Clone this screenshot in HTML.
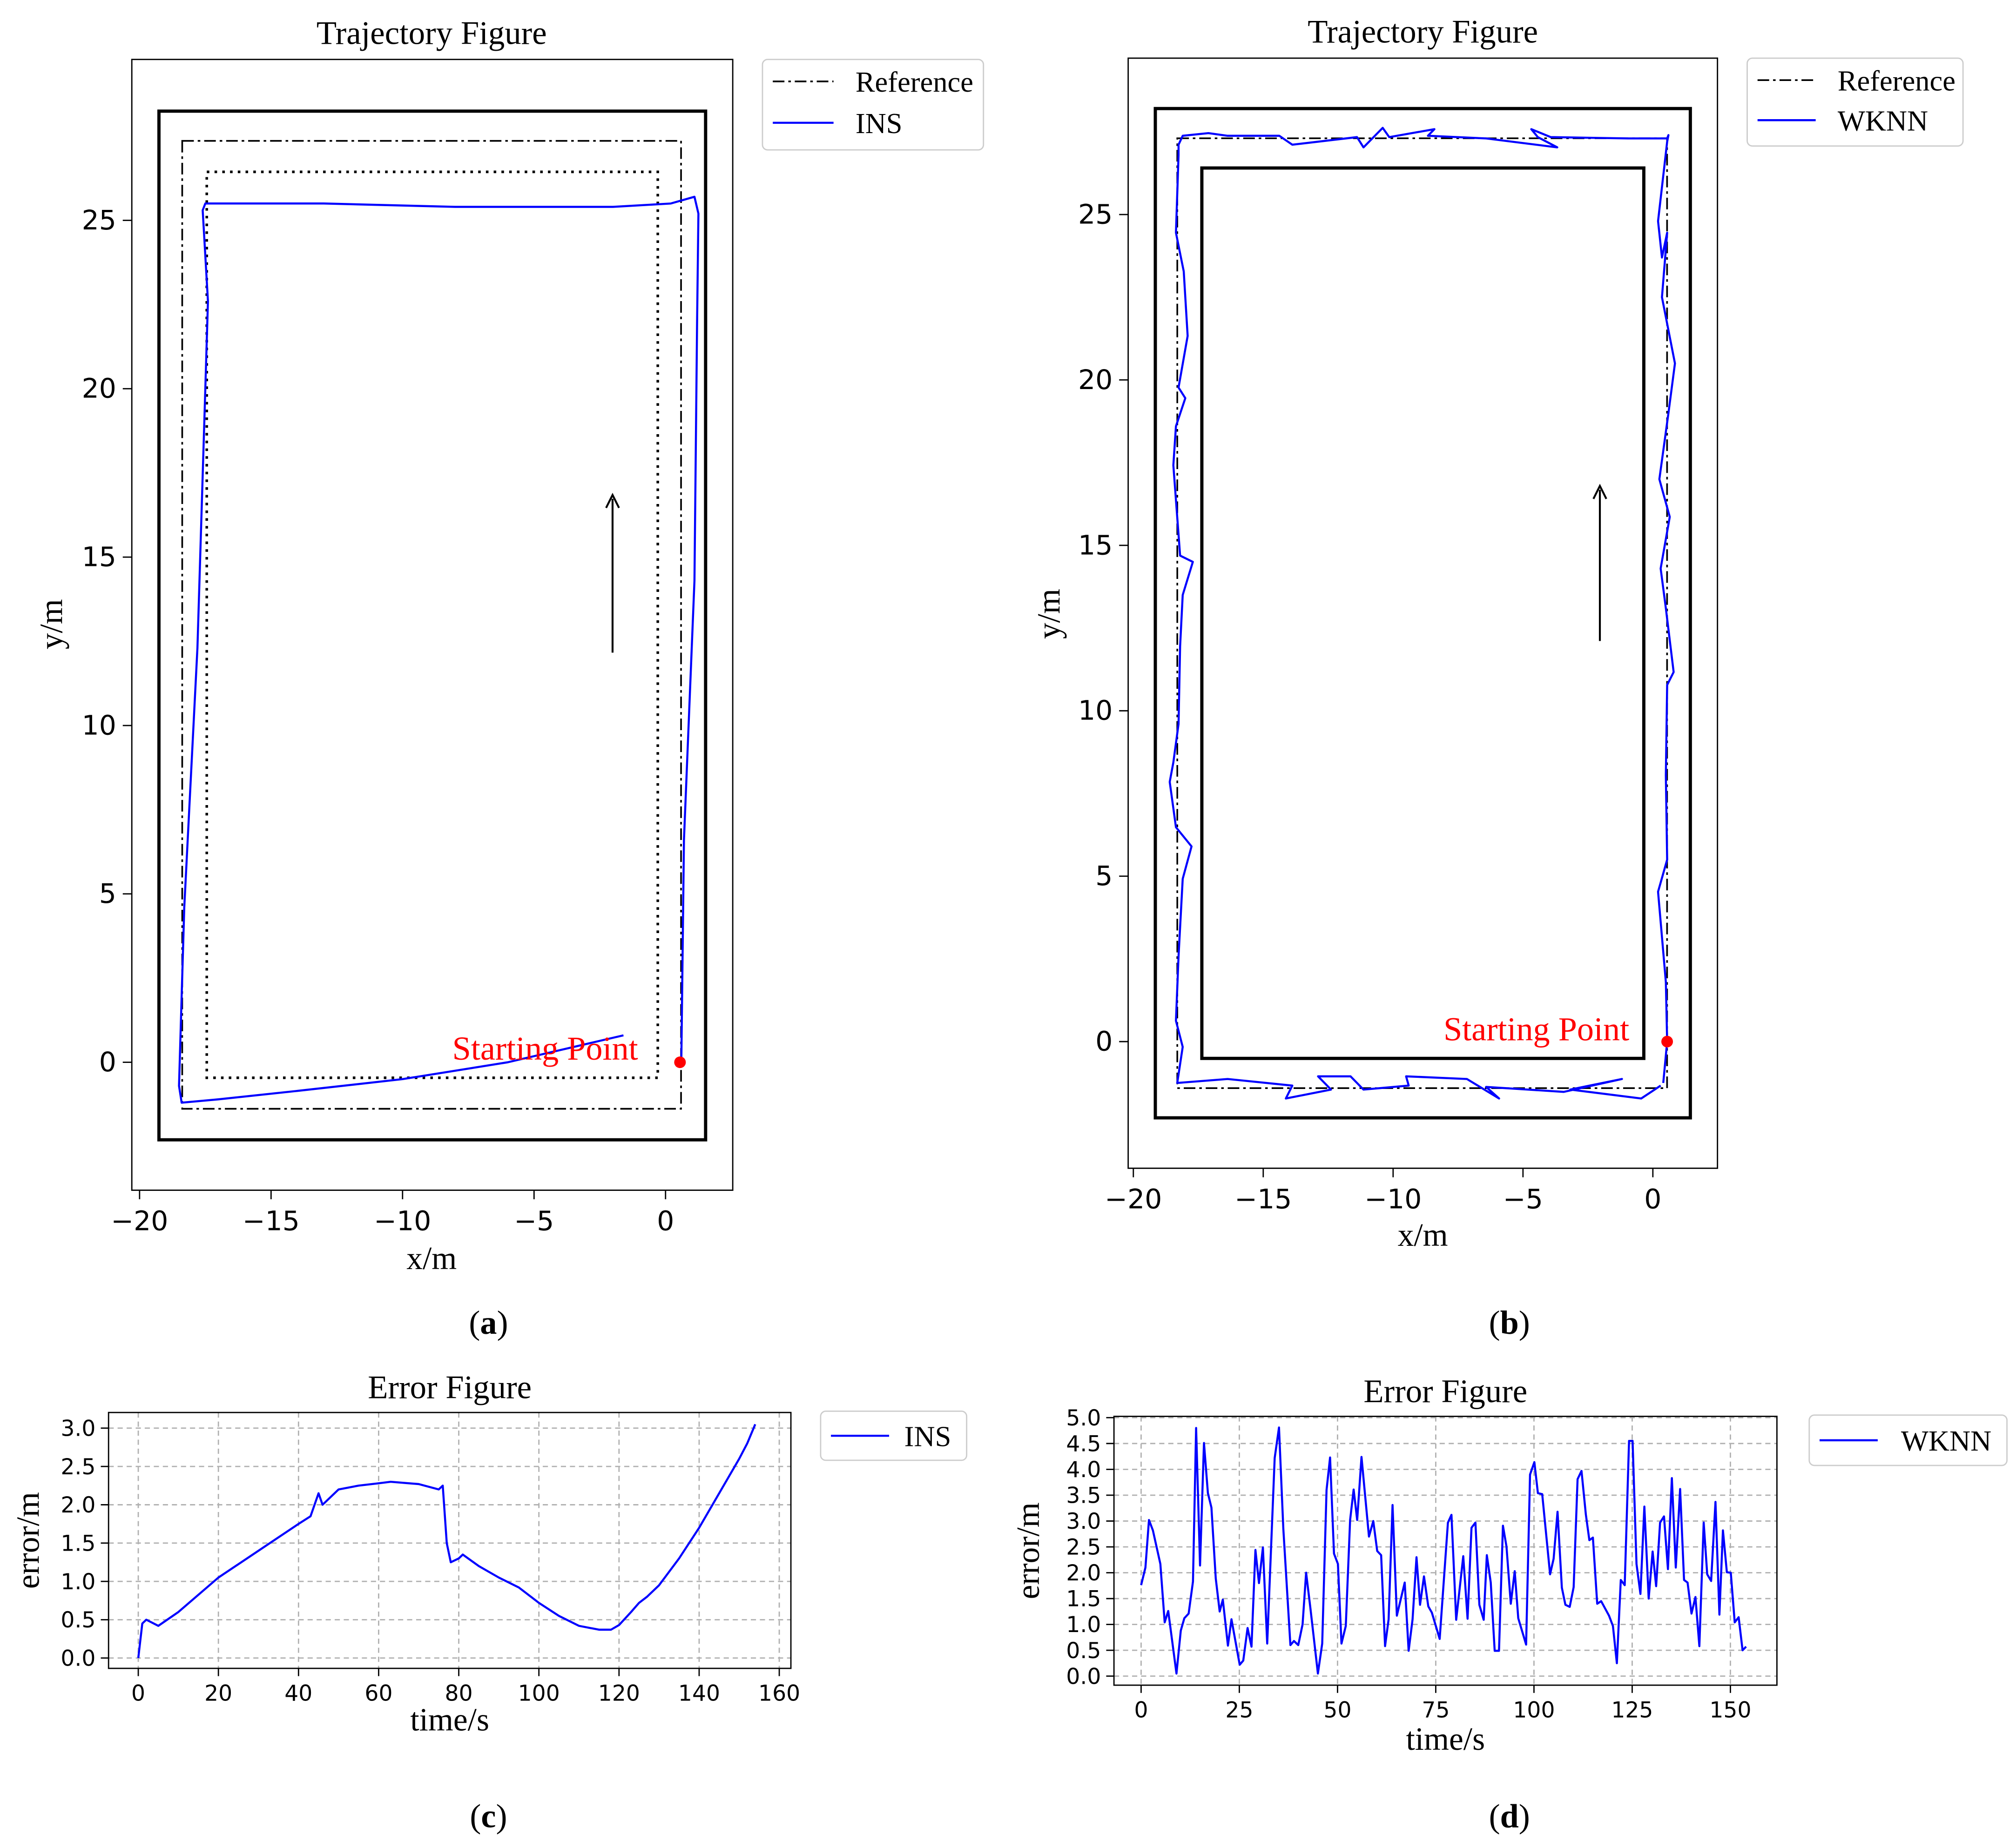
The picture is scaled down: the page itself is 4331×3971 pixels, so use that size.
<!DOCTYPE html>
<html><head><meta charset="utf-8"><style>
html,body{margin:0;padding:0;background:#fff;}
svg{display:block;}
text{font-family:"DejaVu Sans","Liberation Sans",sans-serif;}
.serif{font-family:"Liberation Serif","DejaVu Serif",serif;}
</style></head><body>
<svg id="fig" width="4331" height="3971" viewBox="0 0 1560 1430" preserveAspectRatio="none" xmlns="http://www.w3.org/2000/svg"></svg>
<script>
// ---- data ----
const insTrajX=[0.6,0.7,1.1,1.2,1.25,1.1,0.2,-2,-8,-13,-17.5,-17.6,-17.4,-17.5,-17.8,-18.3,-18.5,-18.4,-17,-14,-10,-6,-1.6];
const insTrajY=[0,6.6,14.3,22,25.2,25.7,25.5,25.4,25.4,25.5,25.5,25.3,22.6,20,12.3,4.6,-0.7,-1.2,-1.1,-0.85,-0.5,0,0.8];
const wkTrajX=[0.40,0.55,0.50,0.20,0.55,0.50,0.55,0.80,0.50,0.30,0.65,0.25,0.60,0.85,0.35,0.55,0.35,0.20,0.55,0.60,
 0.55,-0.95,-3.93,-4.68,-4.43,-3.68,-6.42,-8.66,-8.41,-10.15,-10.4,-11.14,-11.39,-13.88,-14.38,-16.37,-17.11,-18.1,-18.26,
 -18.26,-18.36,-18.06,-17.91,-18.26,-18.0,-18.36,-18.46,-18.2,-17.71,-18.1,-18.2,-18.26,-18.46,-18.6,-18.36,-17.76,-18.1,-18.26,-18.36,-18.1,-18.31,
 -16.37,-13.88,-14.13,-12.39,-12.89,-11.64,-11.14,-9.4,-9.5,-7.16,-5.92,-6.42,-3.43,-1.19,-3.18,-0.45,0.3];
const wkTrajY=[-1.25,0,1.8,4.53,5.5,8.05,10.78,11.17,13.1,14.3,15.86,17.0,19.0,20.5,22.5,24.45,23.7,24.8,27.2,27.4,
 27.3,27.3,27.34,27.58,27.34,27.03,27.3,27.38,27.58,27.34,27.62,27.03,27.34,27.11,27.38,27.38,27.46,27.38,27.11,
 26.8,24.45,23.28,21.33,19.77,19.45,18.6,17.42,14.69,14.5,13.5,11.95,9.6,8.44,7.85,6.48,5.9,4.92,2.58,0.63,-0.16,-1.25,
 -1.13,-1.33,-1.72,-1.45,-1.05,-1.05,-1.45,-1.33,-1.05,-1.13,-1.72,-1.37,-1.52,-1.13,-1.45,-1.72,-1.33];
const insT=[0,1,2,5,10,20,30,40,43,45,46,50,55,60,63,70,75,76,77,78,80,81,85,90,95,100,105,110,115,118,120,123,125,127,130,135,140,145,150,152,154];
const insE=[0,0.45,0.5,0.42,0.6,1.05,1.4,1.75,1.85,2.15,2.0,2.2,2.25,2.28,2.3,2.27,2.2,2.25,1.5,1.25,1.3,1.35,1.2,1.05,0.92,0.72,0.55,0.42,0.37,0.37,0.43,0.6,0.72,0.8,0.95,1.3,1.7,2.15,2.6,2.8,3.05];
const wkT=[0,1.1,2,3,4.9,6,6.9,9,10.1,11,12.1,13.2,14,15,16,17,17.9,19,20,20.8,22.1,23,25.1,26,27.1,28.1,29.1,30,31,32.1,34,35.1,36.2,38,38.9,40,41.1,42,43.1,45,46.1,47.2,48.1,49.1,50.1,51,52.1,53.2,54.1,55,56.1,58,59.1,60.1,61.1,62.1,63,64,65.1,67.1,68.1,69.1,70.1,71,72,73.1,74,76,78.1,79,80.2,82,83.1,84.1,85.1,86.1,87.2,88,89,90,91.1,92.1,93,94.1,95.1,96,98,99,100.1,101,102.1,104.1,105,106,107.1,108,109.1,110.1,111.1,112.1,113.2,114.1,115,116.1,117.1,119.1,120.1,121.1,122.1,123.1,124.2,125.1,126.1,127.1,128.1,129.2,130.2,131.1,132.1,133.1,134.1,135.1,136.1,137.2,138.2,139.1,140.1,141.1,142.1,143.2,144.1,145.1,146.2,147.2,148.1,149.1,150.1,151.1,152.1,153.1,154];
const wkE=[1.76,2.1,3.02,2.82,2.17,1.04,1.26,0.05,0.88,1.12,1.21,1.83,4.8,2.14,4.51,3.54,3.26,1.89,1.25,1.48,0.59,1.1,0.22,0.3,0.93,0.57,2.44,1.8,2.49,0.63,4.22,4.81,2.85,0.6,0.68,0.6,1.0,2.0,1.31,0.05,0.63,3.6,4.23,2.37,2.17,0.63,0.97,3.02,3.61,3.02,4.24,2.7,3.0,2.42,2.34,0.58,1.1,3.31,1.17,1.81,0.49,1.1,2.3,1.38,1.93,1.35,1.23,0.72,2.97,3.12,1.09,2.32,1.11,2.87,2.97,1.38,1.09,2.34,1.81,0.49,0.49,2.91,2.51,1.4,2.03,1.12,0.61,3.9,4.14,3.54,3.52,1.97,2.27,3.18,1.71,1.38,1.34,1.72,3.81,3.97,3.13,2.63,2.68,1.4,1.45,1.17,0.97,0.25,1.86,1.76,4.55,4.55,2.17,1.59,3.28,1.5,2.41,1.74,2.97,3.09,2.07,3.83,2.1,3.62,1.86,1.81,1.21,1.53,0.58,2.97,1.97,1.84,3.37,1.19,2.82,2.01,2.0,1.04,1.14,0.5,0.57];
const trajXTicks=[-20,-15,-10,-5,0];
const trajYTicks=[0,5,10,15,20,25];
const errCXTicks=[0,20,40,60,80,100,120,140,160];
const errDXTicks=[0,25,50,75,100,125,150];
const errCYTicks=[0,0.5,1,1.5,2,2.5,3];
const errDYTicks=[0,0.5,1,1.5,2,2.5,3,3.5,4,4.5,5];

const NS="http://www.w3.org/2000/svg";
const svg=document.getElementById('fig');
function mk(tag,attrs,parent,txt){const e=document.createElementNS(NS,tag);for(const k in attrs)e.setAttribute(k,attrs[k]);if(txt!==undefined)e.textContent=txt;(parent||svg).appendChild(e);return e;}
function poly(xs,ys,fx,fy,g,stroke,w){let d='';for(let i=0;i<xs.length;i++)d+=(i?'L':'M')+fx(xs[i]).toFixed(2)+','+fy(ys[i]).toFixed(2);return mk('path',{d:d,fill:'none',stroke:stroke,'stroke-width':w,'stroke-linejoin':'round'},g);}
function trajPanel(id){
  const g=mk('g',{});
  
  
  return g;
}
// Panel (a)
{
 const fx=v=>515+v*20.35, fy=v=>822-v*26.06;
 const g=trajPanel('trajectory-ins');
 mk('rect',{x:102,y:46,width:465,height:875,fill:'none',stroke:'#000','stroke-width':1},g);
 mk('rect',{x:123,y:86,width:423,height:796,fill:'none',stroke:'#000','stroke-width':2.5},g);
 mk('rect',{x:141,y:109,width:386,height:749,fill:'none',stroke:'#000','stroke-width':1.3,'stroke-dasharray':'9,3,2,3'},g);
 mk('rect',{x:160,y:133,width:349,height:701,fill:'none',stroke:'#000','stroke-width':2,'stroke-dasharray':'2,4'},g);
 mk('line',{x1:474,y1:505,x2:474,y2:386,stroke:'#000','stroke-width':1.5},g);
 mk('path',{d:'M469,393 L474,383 L479,393',fill:'none',stroke:'#000','stroke-width':1.5},g);
 const p=poly(insTrajX,insTrajY,fx,fy,g,'#0000ff',1.6);
 
 
 mk('circle',{cx:fx(0.55),cy:fy(0),r:4.5,fill:'#ff0000'},g);
 mk('text',{x:350,y:820,'font-size':26,fill:'#ff0000',class:'serif'},g,'Starting Point');
 trajXTicks.forEach(v=>{const x=fx(v);mk('line',{x1:x,y1:921,x2:x,y2:928,stroke:'#000'},g);mk('text',{x:x,y:952,'font-size':21,'text-anchor':'middle'},g,v<0?'\u2212'+(-v):''+v);});
 trajYTicks.forEach(v=>{const y=fy(v);mk('line',{x1:95,y1:y,x2:102,y2:y,stroke:'#000'},g);mk('text',{x:90,y:y+7,'font-size':21,'text-anchor':'end'},g,''+v);});
 mk('text',{x:334,y:34,'font-size':25.5,'text-anchor':'middle',class:'serif'},g,'Trajectory Figure');
 mk('text',{x:334,y:982,'font-size':25,'text-anchor':'middle',class:'serif'},g,'x/m');
 mk('text',{x:48,y:483,'font-size':25,'text-anchor':'middle',class:'serif',transform:'rotate(-90 48 483)'},g,'y/m');
 const lg=mk('g',{},g);
 mk('rect',{x:590,y:46,width:171,height:70,rx:4,fill:'#fff',stroke:'#ccc'},lg);
 mk('line',{x1:598,y1:63,x2:645,y2:63,stroke:'#000','stroke-width':1.3,'stroke-dasharray':'9,3,2,3'},lg);
 mk('text',{x:662,y:71,'font-size':22.5,class:'serif'},lg,'Reference');
 mk('line',{x1:598,y1:95,x2:645,y2:95,stroke:'#0000ff','stroke-width':1.6},lg);
 mk('text',{x:662,y:103,'font-size':22.5,class:'serif'},lg,'INS');
 mk('text',{x:378,y:1032,'font-size':26,'text-anchor':'middle',class:'serif'},g).innerHTML='(<tspan font-weight="bold">a</tspan>)';
}
// Panel (b)
{
 const fx=v=>1279+v*20.1, fy=v=>806-v*25.6;
 const g=trajPanel('trajectory-wknn');
 mk('rect',{x:873,y:45,width:456,height:859,fill:'none',stroke:'#000','stroke-width':1},g);
 mk('rect',{x:894,y:84,width:414,height:781,fill:'none',stroke:'#000','stroke-width':2.5},g);
 mk('rect',{x:911,y:107,width:379,height:735,fill:'none',stroke:'#000','stroke-width':1.3,'stroke-dasharray':'9,3,2,3'},g);
 mk('rect',{x:930,y:130,width:342,height:689,fill:'none',stroke:'#000','stroke-width':2.5},g);
 mk('line',{x1:1238,y1:496,x2:1238,y2:379,stroke:'#000','stroke-width':1.5},g);
 mk('path',{d:'M1233,386 L1238,376 L1243,386',fill:'none',stroke:'#000','stroke-width':1.5},g);
 const p=poly(wkTrajX,wkTrajY,fx,fy,g,'#0000ff',1.6);
 
 
 mk('circle',{cx:fx(0.55),cy:fy(0),r:4.5,fill:'#ff0000'},g);
 mk('text',{x:1117,y:805,'font-size':26,fill:'#ff0000',class:'serif'},g,'Starting Point');
 trajXTicks.forEach(v=>{const x=fx(v);mk('line',{x1:x,y1:904,x2:x,y2:911,stroke:'#000'},g);mk('text',{x:x,y:935,'font-size':21,'text-anchor':'middle'},g,v<0?'\u2212'+(-v):''+v);});
 trajYTicks.forEach(v=>{const y=fy(v);mk('line',{x1:866,y1:y,x2:873,y2:y,stroke:'#000'},g);mk('text',{x:861,y:y+7,'font-size':21,'text-anchor':'end'},g,''+v);});
 mk('text',{x:1101,y:33,'font-size':25.5,'text-anchor':'middle',class:'serif'},g,'Trajectory Figure');
 mk('text',{x:1101,y:964,'font-size':25,'text-anchor':'middle',class:'serif'},g,'x/m');
 mk('text',{x:820,y:475,'font-size':25,'text-anchor':'middle',class:'serif',transform:'rotate(-90 820 475)'},g,'y/m');
 const lg=mk('g',{},g);
 mk('rect',{x:1352,y:45,width:167,height:68,rx:4,fill:'#fff',stroke:'#ccc'},lg);
 mk('line',{x1:1360,y1:62,x2:1405,y2:62,stroke:'#000','stroke-width':1.3,'stroke-dasharray':'9,3,2,3'},lg);
 mk('text',{x:1422,y:70,'font-size':22.5,class:'serif'},lg,'Reference');
 mk('line',{x1:1360,y1:93,x2:1405,y2:93,stroke:'#0000ff','stroke-width':1.6},lg);
 mk('text',{x:1422,y:101,'font-size':22.5,class:'serif'},lg,'WKNN');
 mk('text',{x:1168,y:1032,'font-size':26,'text-anchor':'middle',class:'serif'},g).innerHTML='(<tspan font-weight="bold">b</tspan>)';
}
// error panels
function errPanel(name,box,fx,fy,xt,yt,ts,es,title,lgBox,lgLabel,lbl,lblX,xlY,ylX){
 const g=mk('g',{});
 
 
 xt.forEach(v=>{const x=fx(v);mk('line',{x1:x,y1:box.y,x2:x,y2:box.y+box.h,stroke:'#b0b0b0','stroke-dasharray':'4,3'},g);});
 yt.forEach(v=>{const y=fy(v);mk('line',{x1:box.x,y1:y,x2:box.x+box.w,y2:y,stroke:'#b0b0b0','stroke-dasharray':'4,3'},g);});
 mk('rect',{x:box.x,y:box.y,width:box.w,height:box.h,fill:'none',stroke:'#000'},g);
 const p=poly(ts,es,fx,fy,g,'#0000ff',1.6);
 
 
 xt.forEach(v=>{const x=fx(v);mk('line',{x1:x,y1:box.y+box.h,x2:x,y2:box.y+box.h+6,stroke:'#000'},g);mk('text',{x:x,y:box.y+box.h+25,'font-size':17,'text-anchor':'middle'},g,''+v);});
 yt.forEach(v=>{const y=fy(v);mk('line',{x1:box.x-6,y1:y,x2:box.x,y2:y,stroke:'#000'},g);mk('text',{x:box.x-10,y:y+6,'font-size':17,'text-anchor':'end'},g,v.toFixed(1));});
 mk('text',{x:box.x+box.w/2,y:box.y-11,'font-size':25.5,'text-anchor':'middle',class:'serif'},g,title);
 mk('text',{x:box.x+box.w/2,y:xlY,'font-size':25,'text-anchor':'middle',class:'serif'},g,'time/s');
 const ym=box.y+box.h/2;
 mk('text',{x:ylX,y:ym,'font-size':25,'text-anchor':'middle',class:'serif',transform:'rotate(-90 '+ylX+' '+ym+')'},g,'error/m');
 const lg=mk('g',{},g);
 mk('rect',{x:lgBox.x,y:lgBox.y,width:lgBox.w,height:lgBox.h,rx:4,fill:'#fff',stroke:'#ccc'},lg);
 mk('line',{x1:lgBox.x+8,y1:lgBox.y+lgBox.h/2,x2:lgBox.x+53,y2:lgBox.y+lgBox.h/2,stroke:'#0000ff','stroke-width':1.6},lg);
 mk('text',{x:lgBox.x+lgBox.w-12,y:lgBox.y+lgBox.h/2+8,'font-size':22.5,'text-anchor':'end',class:'serif'},lg,lgLabel);
 mk('text',{x:lblX,y:1414,'font-size':26,'text-anchor':'middle',class:'serif'},g).innerHTML='(<tspan font-weight="bold">'+lbl+'</tspan>)';
}
errPanel('ins-error-plot',{x:84,y:1093,w:528,h:198},v=>107+v*3.1,v=>1283-v*59.3,errCXTicks,errCYTicks,insT,insE,'Error Figure',{x:635,y:1092,w:113,h:38},'INS','c',378,1339,30);
errPanel('wknn-error-plot',{x:862,y:1096,w:513,h:208},v=>883+v*3.04,v=>1297-v*40,errDXTicks,errDYTicks,wkT,wkE,'Error Figure',{x:1400,y:1095,w:153,h:39},'WKNN','d',1168,1354,804);
</script>
</body></html>
